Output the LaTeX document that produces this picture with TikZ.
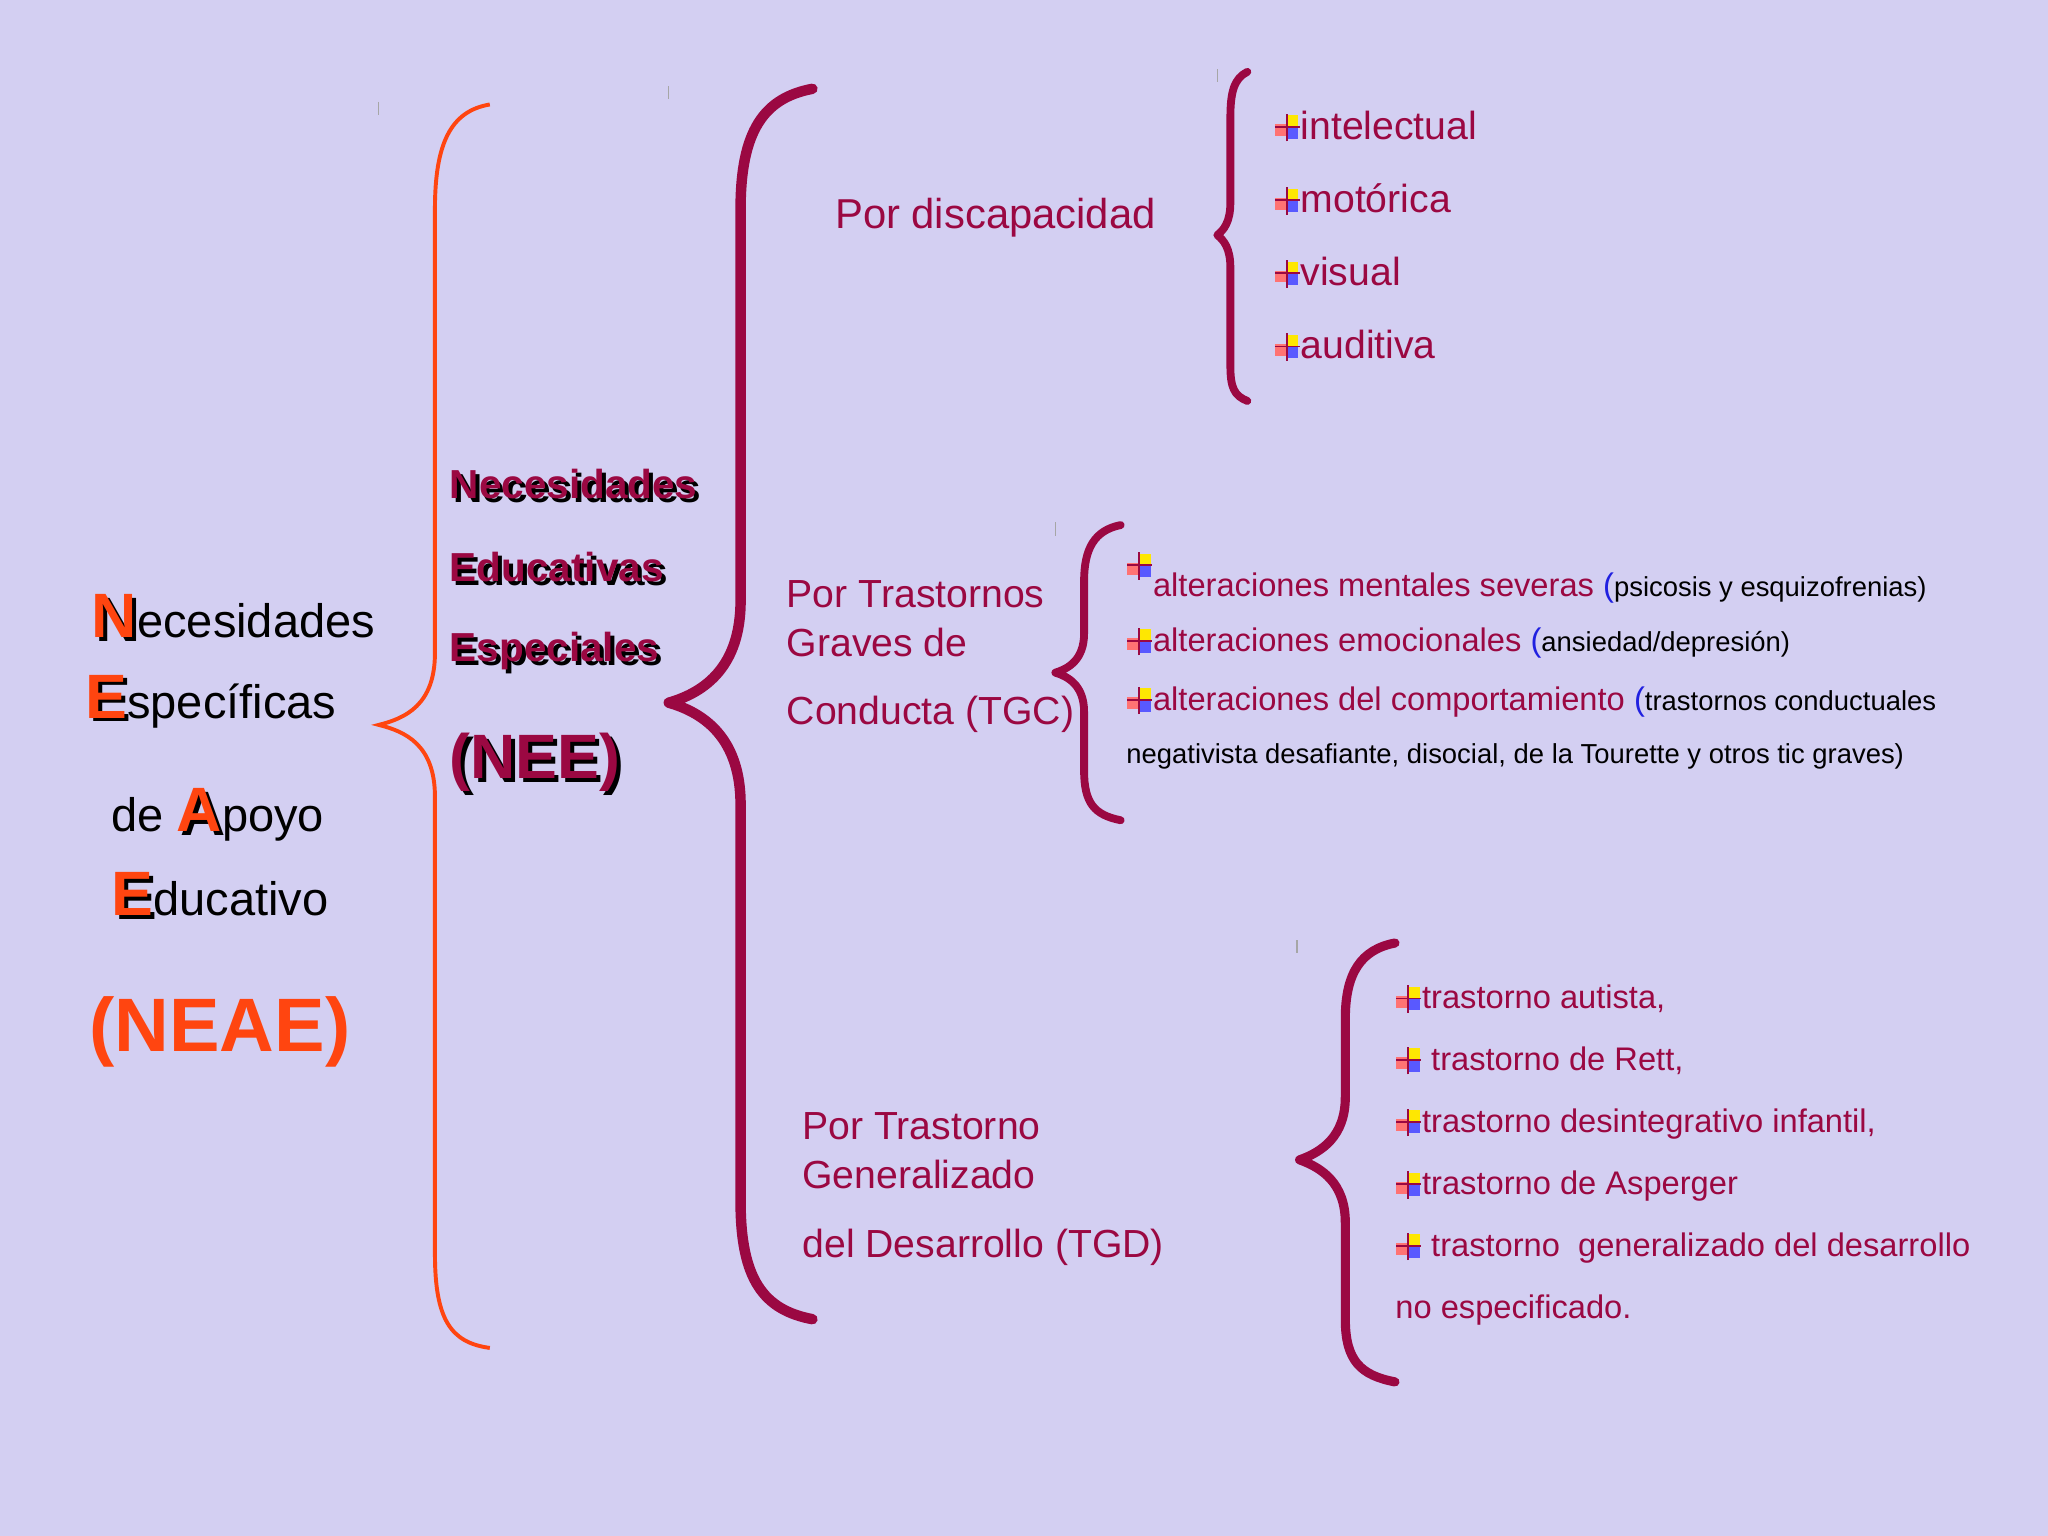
\documentclass[tikz,border=0pt]{standalone}
\usepackage{fontspec}
\setmainfont{Liberation Sans}
\definecolor{bg}{HTML}{D3CFF2}
\definecolor{crim}{HTML}{9B0842}
\definecolor{org}{HTML}{FF4510}
\definecolor{bl}{HTML}{2020E0}
\newcommand\bul{\tikz[baseline=-0.6ex,x=1pt,y=1pt]{\fill[yellow!90!orange] (0,0) rectangle (4.5,4.5);\fill[red!55] (-4.5,-3.5) rectangle (0,1);\fill[blue!65] (0,-4.5) rectangle (4.5,0);\draw[line width=0.7pt] (-4.5,0)--(5,0) (0,-5.5)--(0,5);}}
\newcommand\shl[2]{\makebox[0pt][l]{\kern1.5pt\raisebox{-1.5pt}{\color{black}#2}}{\color{#1}#2}}
\begin{document}
\begin{tikzpicture}[x=0.5pt,y=-0.5pt,
  txt/.style={anchor=west,inner sep=0pt,font=\fontsize{14}{16}\selectfont,text=crim},
  lft/.style={anchor=west,inner sep=0pt,font=\fontsize{18}{20}\selectfont,text=black},
  nee/.style={anchor=west,inner sep=0pt,font=\fontsize{15.5}{18}\selectfont\bfseries},
  br/.style={draw=crim,line cap=round,line join=round}]
\fill[bg] (0,0) rectangle (1568,1176);
\useasboundingbox (0,0) rectangle (1568,1176);
% braces
\draw[draw=org,line width=1.5pt] (375,80) .. controls (345,85) and (333,110) .. (333,160) -- (333,500) .. controls (333,540) and (310,550) .. (290,555) .. controls (310,560) and (333,570) .. (333,610) -- (333,960) .. controls (333,1010) and (345,1028) .. (375,1032);
\draw[br,line width=4pt] (622,68) .. controls (585,75) and (567,100) .. (567,160) -- (567,460) .. controls (567,510) and (540,530) .. (512,538) .. controls (540,546) and (567,566) .. (567,616) -- (567,920) .. controls (567,980) and (585,1003) .. (622,1010);
\draw[br,line width=3pt] (955,55) .. controls (945,60) and (942,70) .. (942,90) -- (942,155) .. controls (942,170) and (937,176) .. (932,180) .. controls (937,184) and (942,190) .. (942,205) -- (942,280) .. controls (942,297) and (945,303) .. (955,307);
\draw[br,line width=3pt] (858,402) .. controls (838,406) and (830,420) .. (830,445) -- (830,485) .. controls (830,505) and (818,512) .. (808,515) .. controls (818,518) and (830,525) .. (830,545) -- (830,590) .. controls (830,615) and (838,624) .. (858,628);
\draw[br,line width=3.5pt] (1068,722) .. controls (1042,727) and (1030,745) .. (1030,780) -- (1030,840) .. controls (1030,870) and (1012,882) .. (995,888) .. controls (1012,894) and (1030,906) .. (1030,936) -- (1030,1010) .. controls (1030,1042) and (1042,1053) .. (1068,1058);
\foreach \p in {(290,78),(512,66),(932,53),(808,400),(993,720)} \draw[gray!70,line width=0.4pt] \p -- ++(0,10);
% left
\node[lft] (l1) at (70,473) {{\fontsize{24}{24}\selectfont\bfseries\shl{org}{N}}ecesidades};
\node[lft] (l2) at (65,537) {{\fontsize{24}{24}\selectfont\bfseries\shl{org}{E}}specíficas};
\node[lft] (l3) at (85,624) {de {\fontsize{24}{24}\selectfont\bfseries\shl{org}{A}}poyo};
\node[lft] (l4) at (85,686) {{\fontsize{24}{24}\selectfont\bfseries\shl{org}{E}}ducativo};
\node[lft,text=org,font=\fontsize{29}{30}\selectfont\bfseries] (l5) at (68,790) {(NEAE)};
% NEE
\node[nee] (n1) at (344,372) {\shl{crim}{Necesidades}};
\node[nee] (n2) at (344,436) {\shl{crim}{Educativas}};
\node[nee] (n3) at (344,500) {\shl{crim}{Especiales}};
\node[nee,font=\fontsize{24}{26}\selectfont\bfseries] (n4) at (344,585) {\shl{crim}{(NEE)}};
% categories
\node[txt,font=\fontsize{16}{18}\selectfont] (c1) at (639,167) {Por discapacidad};
\node[txt,font=\fontsize{15}{18}\selectfont] (c2a) at (602,455) {Por Trastornos};
\node[txt,font=\fontsize{15}{18}\selectfont] (c2b) at (602,492) {Graves de};
\node[txt,font=\fontsize{15}{18}\selectfont] (c2c) at (602,547) {Conducta (TGC)};
\node[txt,font=\fontsize{15}{18}\selectfont] (c3a) at (614,862) {Por Trastorno};
\node[txt,font=\fontsize{15}{18}\selectfont] (c3b) at (614,899) {Generalizado};
\node[txt,font=\fontsize{15}{18}\selectfont] (c3c) at (614,955) {del Desarrollo (TGD)};
% disability items
\node[txt,font=\fontsize{15}{18}\selectfont] (d1) at (975,97) {\bul intelectual};
\node[txt,font=\fontsize{15}{18}\selectfont] (d2) at (975,153) {\bul motórica};
\node[txt,font=\fontsize{15}{18}\selectfont] (d3) at (975,209) {\bul visual};
\node[txt,font=\fontsize{15}{18}\selectfont] (d4) at (975,265) {\bul auditiva};
% TGC items
\node[txt,font=\fontsize{12.5}{14}\selectfont] (g1) at (862,442) {\raisebox{1.2ex}{\bul}alteraciones mentales severas {\color{bl}(}{\color{black}\fontsize{10.5}{12}\selectfont psicosis y esquizofrenias)}};
\node[txt,font=\fontsize{12.5}{14}\selectfont] (g2) at (862,492) {\bul alteraciones emocionales {\color{bl}(}{\color{black}\fontsize{10.5}{12}\selectfont ansiedad/depresión)}};
\node[txt,font=\fontsize{12.5}{14}\selectfont] (g3) at (862,537) {\bul alteraciones del comportamiento {\color{bl}(}{\color{black}\fontsize{10.5}{12}\selectfont trastornos conductuales}};
\node[txt,text=black,font=\fontsize{10.5}{12}\selectfont] (g4) at (862,579) {negativista desafiante, disocial, de la Tourette y otros tic graves)};
% TGD items
\node[txt,font=\fontsize{12.5}{14}\selectfont] (t1) at (1068,765) {\bul trastorno autista,};
\node[txt,font=\fontsize{12.5}{14}\selectfont] (t2) at (1068,812) {\bul\ trastorno de Rett,};
\node[txt,font=\fontsize{12.5}{14}\selectfont] (t3) at (1068,860) {\bul trastorno desintegrativo infantil,};
\node[txt,font=\fontsize{12.5}{14}\selectfont] (t4) at (1068,908) {\bul trastorno de Asperger};
\node[txt,font=\fontsize{12.5}{14}\selectfont] (t5) at (1068,955) {\bul\ trastorno\ \ generalizado del desarrollo};
\node[txt,font=\fontsize{12.5}{14}\selectfont] (t6) at (1068,1003) {no especificado.};
\end{tikzpicture}
\end{document}
